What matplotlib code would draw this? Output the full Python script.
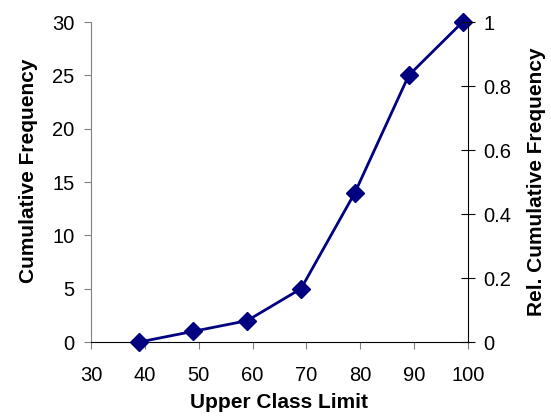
import matplotlib
matplotlib.use("Agg")
import matplotlib.pyplot as plt

plt.rcParams['font.family'] = ['Liberation Sans', 'DejaVu Sans']

# data
upper_limits = [39, 49, 59, 69, 79, 89, 99]
cum_freq = [0, 1, 2, 5, 14, 25, 30]
total = 30

fig = plt.figure(figsize=(5.51, 4.17), dpi=100)
ax = fig.add_axes([91 / 551, 1 - 342 / 417, (468 - 91) / 551, (342 - 22) / 417])

ax.plot(upper_limits, cum_freq, color='#000080', lw=2, marker='D', ms=9,
        clip_on=False, zorder=5)
ax.set_xlim(30, 100)
ax.set_ylim(0, 30)
ax.set_xticks(range(30, 101, 10))
ax.set_yticks(range(0, 31, 5))

for s in ['top', 'right']:
    ax.spines[s].set_visible(False)
ax.spines['left'].set_color('#808080')
ax.spines['bottom'].set_color('black')
ax.tick_params(axis='y', direction='out', length=5, color='#808080', labelsize=14.5, pad=7)
ax.tick_params(axis='x', direction='out', length=5, color='#808080', labelsize=14.5, pad=12)

ax.set_xlabel("Upper Class Limit", fontsize=15, fontweight='bold', labelpad=6)
ax.set_ylabel("Cumulative Frequency", fontsize=15, fontweight='bold')
ax.yaxis.set_label_coords(-0.14, 0.534)

ax2 = ax.twinx()
ax2.set_ylim(0, 1)
ax2.set_yticks([0, 0.2, 0.4, 0.6, 0.8, 1])
ax2.set_yticklabels(['0', '0.2', '0.4', '0.6', '0.8', '1'])
for s in ['top', 'left', 'bottom']:
    ax2.spines[s].set_visible(False)
ax2.spines['right'].set_color('black')
ax2.tick_params(axis='y', direction='inout', length=10, color='black', labelsize=14.5, pad=6)
ax2.set_ylabel("Rel. Cumulative Frequency", fontsize=15, fontweight='bold',
               rotation=90, labelpad=11)

fig.savefig("out.png", dpi=100)
